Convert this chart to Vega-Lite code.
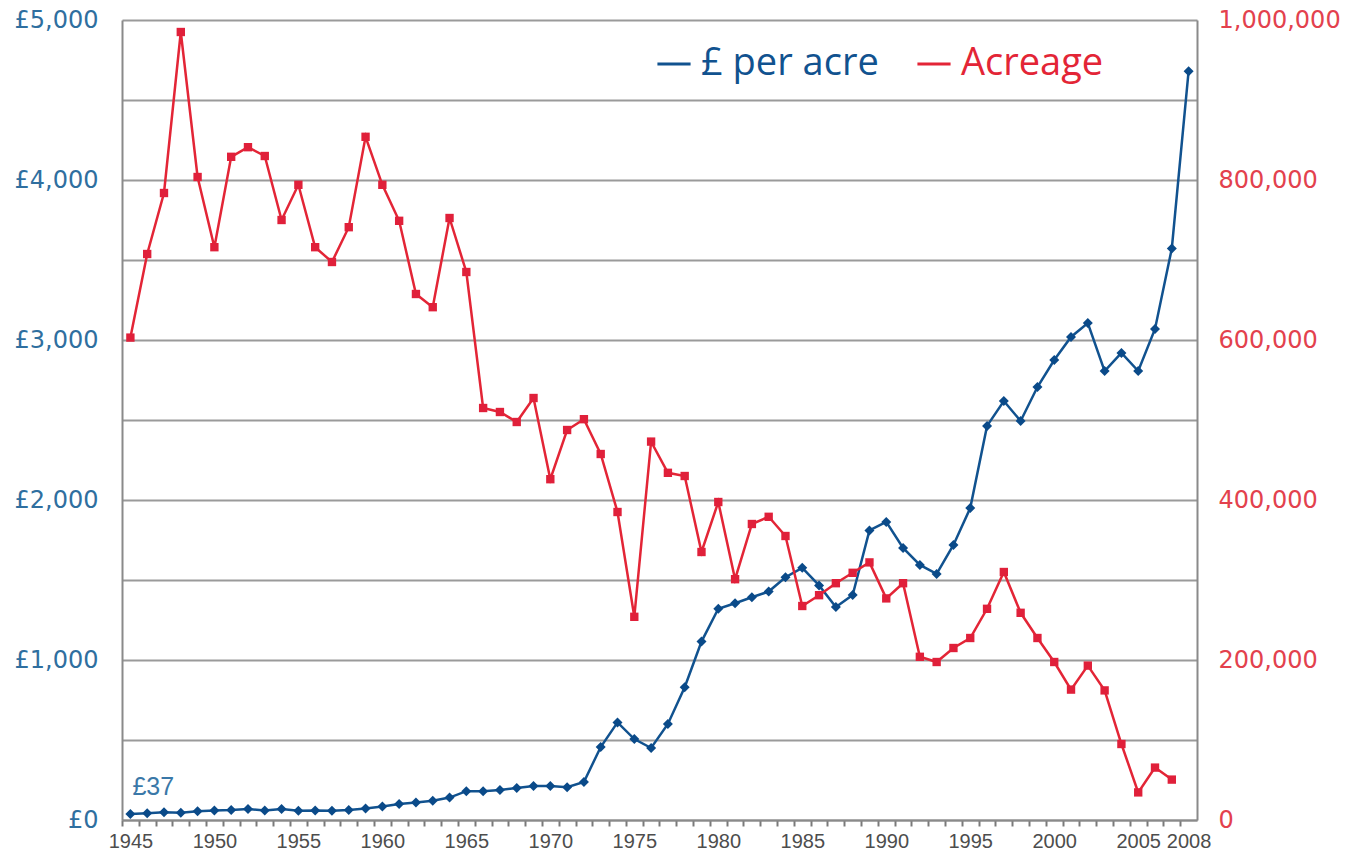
{
  "$schema": "https://vega.github.io/schema/vega-lite/v6.json",
  "width": 1075,
  "height": 800,
  "autosize": "none",
  "padding": {"left": 122, "top": 20, "right": 149, "bottom": 37},
  "background": "white",
  "data": {"values": [
    {"year": 1945, "price": 37, "acreage": 603000},
    {"year": 1946, "price": 42, "acreage": 707500},
    {"year": 1947, "price": 48, "acreage": 783750},
    {"year": 1948, "price": 45, "acreage": 985000},
    {"year": 1949, "price": 55, "acreage": 803750},
    {"year": 1950, "price": 60, "acreage": 716000},
    {"year": 1951, "price": 62, "acreage": 829000},
    {"year": 1952, "price": 68, "acreage": 841000},
    {"year": 1953, "price": 60, "acreage": 830000},
    {"year": 1954, "price": 68, "acreage": 750000},
    {"year": 1955, "price": 58, "acreage": 794000},
    {"year": 1956, "price": 60, "acreage": 716000},
    {"year": 1957, "price": 58, "acreage": 697500},
    {"year": 1958, "price": 63, "acreage": 741000},
    {"year": 1959, "price": 72, "acreage": 854000},
    {"year": 1960, "price": 85, "acreage": 794000},
    {"year": 1961, "price": 100, "acreage": 749000},
    {"year": 1962, "price": 110, "acreage": 657500},
    {"year": 1963, "price": 120, "acreage": 641000},
    {"year": 1964, "price": 140, "acreage": 752500},
    {"year": 1965, "price": 180, "acreage": 685000},
    {"year": 1966, "price": 180, "acreage": 515000},
    {"year": 1967, "price": 187, "acreage": 510000},
    {"year": 1968, "price": 200, "acreage": 497500},
    {"year": 1969, "price": 213, "acreage": 527500},
    {"year": 1970, "price": 213, "acreage": 426000},
    {"year": 1971, "price": 205, "acreage": 487500},
    {"year": 1972, "price": 238, "acreage": 501000},
    {"year": 1973, "price": 456, "acreage": 457500},
    {"year": 1974, "price": 610, "acreage": 385000},
    {"year": 1975, "price": 506, "acreage": 254000},
    {"year": 1976, "price": 450, "acreage": 473000},
    {"year": 1977, "price": 600, "acreage": 434000},
    {"year": 1978, "price": 830, "acreage": 430000},
    {"year": 1979, "price": 1115, "acreage": 335000},
    {"year": 1980, "price": 1320, "acreage": 397500},
    {"year": 1981, "price": 1355, "acreage": 301000},
    {"year": 1982, "price": 1392, "acreage": 370000},
    {"year": 1983, "price": 1428, "acreage": 379000},
    {"year": 1984, "price": 1517, "acreage": 355000},
    {"year": 1985, "price": 1576, "acreage": 267500},
    {"year": 1986, "price": 1466, "acreage": 281000},
    {"year": 1987, "price": 1331, "acreage": 296000},
    {"year": 1988, "price": 1406, "acreage": 309000},
    {"year": 1989, "price": 1810, "acreage": 322000},
    {"year": 1990, "price": 1863, "acreage": 277000},
    {"year": 1991, "price": 1700, "acreage": 296000},
    {"year": 1992, "price": 1594, "acreage": 204000},
    {"year": 1993, "price": 1538, "acreage": 197500},
    {"year": 1994, "price": 1719, "acreage": 215000},
    {"year": 1995, "price": 1950, "acreage": 227500},
    {"year": 1996, "price": 2463, "acreage": 264000},
    {"year": 1997, "price": 2619, "acreage": 310000},
    {"year": 1998, "price": 2494, "acreage": 259000},
    {"year": 1999, "price": 2706, "acreage": 227500},
    {"year": 2000, "price": 2875, "acreage": 197500},
    {"year": 2001, "price": 3019, "acreage": 163000},
    {"year": 2002, "price": 3106, "acreage": 193000},
    {"year": 2003, "price": 2806, "acreage": 162000},
    {"year": 2004, "price": 2919, "acreage": 95000},
    {"year": 2005, "price": 2806, "acreage": 34500},
    {"year": 2006, "price": 3069, "acreage": 65500},
    {"year": 2007, "price": 3572, "acreage": 50500},
    {"year": 2008, "price": 4680, "acreage": null}
  ]},
  "encoding": {
    "x": {
      "field": "year", "type": "quantitative",
      "scale": {"domain": [1944.5, 2008.5], "nice": false, "zero": false},
      "axis": {
        "title": null,
        "values": [1945,1946,1947,1948,1949,1950,1951,1952,1953,1954,1955,1956,1957,1958,1959,1960,1961,1962,1963,1964,1965,1966,1967,1968,1969,1970,1971,1972,1973,1974,1975,1976,1977,1978,1979,1980,1981,1982,1983,1984,1985,1986,1987,1988,1989,1990,1991,1992,1993,1994,1995,1996,1997,1998,1999,2000,2001,2002,2003,2004,2005,2006,2007,2008],
        "labelExpr": "(datum.value % 5 == 0 && datum.value < 2008) || datum.value == 2008 ? '' + datum.value : ''",
        "tickOffset": -8.4,
        "labelOffset": 8.4,
        "grid": false,
        "ticks": true,
        "tickSize": 6,
        "tickWidth": 2,
        "tickColor": "#7a7a7a",
        "domainColor": "#8a8a8a",
        "domainWidth": 2,
        "labelFont": "Liberation Sans",
        "labelFontSize": 20,
        "labelColor": "#4d4d4d",
        "labelPadding": 5,
        "labelOverlap": false,
        "labelFlush": false,
        "labelBound": false
      }
    }
  },
  "layer": [
    {
      "encoding": {
        "y": {
          "field": "price", "type": "quantitative",
          "scale": {"domain": [0, 5000], "nice": false},
          "axis": {
            "title": null,
            "orient": "left",
            "values": [0,500,1000,1500,2000,2500,3000,3500,4000,4500,5000],
            "labelExpr": "datum.value % 1000 == 0 ? '£' + format(datum.value, ',') : ''",
            "grid": true,
            "gridColor": "#9a9a9a",
            "gridWidth": 2,
            "ticks": false,
            "domainColor": "#8a8a8a",
            "domainWidth": 2,
            "labelFont": "DejaVu Sans",
            "labelFontSize": 24,
            "labelColor": "#2f6f9f",
            "labelPadding": 24,
            "labelOverlap": false,
            "labelFlush": false
          }
        }
      },
      "layer": [
        {
          "mark": {"type": "line", "strokeWidth": 2.5},
          "encoding": {
            "color": {
              "datum": "£ per acre",
              "type": "nominal",
              "scale": {"domain": ["£ per acre", "Acreage"], "range": ["#11528f", "#e32536"]},
              "legend": {
                "title": null,
                "orient": "none",
                "legendX": 533,
                "legendY": 25,
                "direction": "horizontal",
                "symbolType": "stroke",
                "symbolSize": 1100,
                "symbolStrokeWidth": 3,
                "labelFont": "Open Sans",
                "labelFontSize": 38,
                "labelOffset": 8,
                "labelLimit": 400,
                "columnPadding": 32,
                "padding": 0,
                "encode": {"labels": {"update": {"fill": {"scale": "color", "field": "value"}}}}
              }
            }
          }
        },
        {
          "mark": {"type": "point", "shape": "diamond", "filled": true, "size": 100, "color": "#0a4a89", "opacity": 1}
        },
        {
          "transform": [{"filter": "datum.year == 1945"}],
          "mark": {"type": "text", "text": "£37", "align": "left", "baseline": "middle", "dx": 2, "dy": -27, "font": "Liberation Sans", "fontSize": 25, "color": "#3a78a8"}
        }
      ]
    },
    {
      "encoding": {
        "y": {
          "field": "acreage", "type": "quantitative",
          "scale": {"domain": [0, 1000000], "nice": false},
          "axis": {
            "title": null,
            "orient": "right",
            "values": [0, 200000, 400000, 600000, 800000, 1000000],
            "labelExpr": "format(datum.value, ',')",
            "grid": false,
            "ticks": false,
            "domainColor": "#8a8a8a",
            "domainWidth": 2,
            "labelFont": "DejaVu Sans",
            "labelFontSize": 24,
            "labelColor": "#e3414d",
            "labelPadding": 21,
            "labelOverlap": false,
            "labelFlush": false
          }
        }
      },
      "layer": [
        {
          "mark": {"type": "line", "strokeWidth": 2.5},
          "encoding": {"color": {"datum": "Acreage", "type": "nominal"}}
        },
        {
          "mark": {"type": "point", "shape": "square", "filled": true, "size": 70, "color": "#e0203a", "opacity": 1}
        }
      ]
    }
  ],
  "resolve": {"scale": {"y": "independent"}},
  "config": {
    "view": {"stroke": null},
    "legend": {"symbolType": "stroke"}
  }
}
